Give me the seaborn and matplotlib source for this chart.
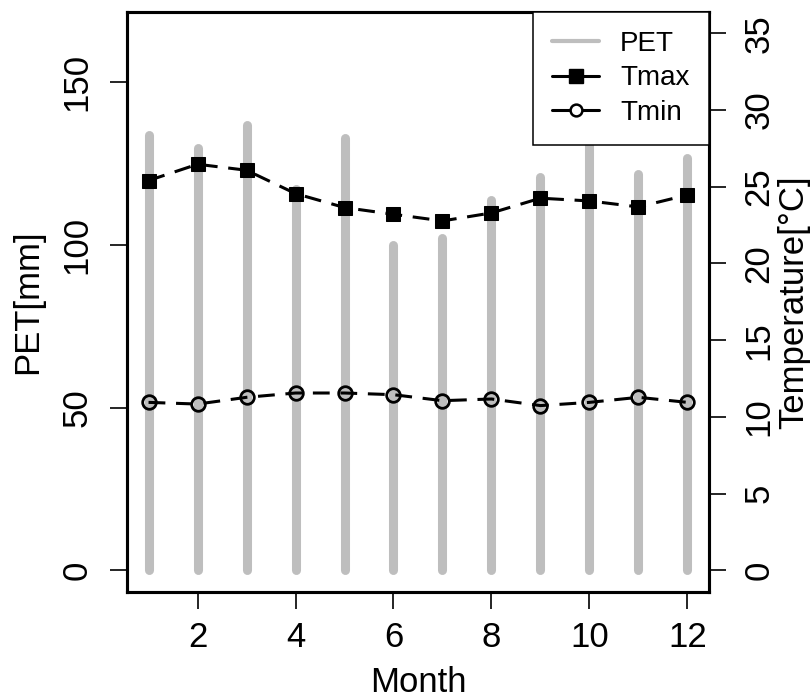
import matplotlib as mpl
mpl.use('Agg')
import matplotlib.pyplot as plt
from matplotlib.lines import Line2D
import seaborn as sns

# monthly climate values
MONTHS = [1, 2, 3, 4, 5, 6, 7, 8, 9, 10, 11, 12]
PET = [133.7, 129.8, 136.8, 117.0, 132.9, 100.0, 102.0, 113.8, 120.8, 132.0, 121.8, 126.8]
TMAX = [25.4, 26.46, 26.07, 24.55, 23.64, 23.2, 22.77, 23.29, 24.25, 24.07, 23.68, 24.46]
TMIN = [10.95, 10.84, 11.28, 11.56, 11.56, 11.45, 11.06, 11.17, 10.74, 10.95, 11.28, 10.95]

X_TICKS = [2, 4, 6, 8, 10, 12]
PET_TICKS = [0, 50, 100, 150]
TEMP_TICKS = [0, 5, 10, 15, 20, 25, 30, 35]

PET_COLOR = '#BEBEBE'
DASH = (0, (5.5, 3.5))


def set_rc_params():
    sns.set_style("ticks")
    mpl.rcParams['font.family'] = ['Liberation Sans', 'DejaVu Sans']
    mpl.rcParams['axes.linewidth'] = 2.2
    mpl.rcParams['xtick.major.width'] = 1.2
    mpl.rcParams['ytick.major.width'] = 1.2
    mpl.rcParams['xtick.major.size'] = 12
    mpl.rcParams['ytick.major.size'] = 12
    mpl.rcParams['xtick.labelsize'] = 25
    mpl.rcParams['ytick.labelsize'] = 25
    mpl.rcParams['axes.labelsize'] = 25
    mpl.rcParams['xtick.color'] = 'black'
    mpl.rcParams['ytick.color'] = 'black'
    mpl.rcParams['axes.edgecolor'] = 'black'
    mpl.rcParams['axes.labelcolor'] = 'black'
    mpl.rcParams['text.color'] = 'black'


set_rc_params()

fig = plt.figure(figsize=(8.11, 6.98), dpi=100)
ax = fig.add_axes([0.1566, 0.1519, 0.7176, 0.8314])
ax2 = ax.twinx()

# PET as thick vertical lines (R type="h")
bars = ax.vlines(MONTHS, 0, PET, colors=PET_COLOR, linewidth=6.5)
bars.set_capstyle('round')

sns.lineplot(x=MONTHS, y=TMAX, ax=ax2, color='black', marker='s',
             markersize=10, markeredgecolor='black', linewidth=2.2,
             linestyle=DASH)
sns.lineplot(x=MONTHS, y=TMIN, ax=ax2, color='black', marker='o',
             markersize=9.8, markerfacecolor='none', markeredgecolor='black',
             markeredgewidth=2.0, linewidth=2.2, linestyle=DASH)

ax.set_xlim(0.56, 12.44)
ax.set_ylim(-6.6, 171.6)
ax2.set_ylim(-6.6 * 35 / 165, 171.6 * 35 / 165)

ax.set_xticks(X_TICKS)
ax.set_yticks(PET_TICKS)
ax2.set_yticks(TEMP_TICKS)

ax.tick_params(axis='x', pad=9)
ax.tick_params(axis='y', labelrotation=90, pad=12)
ax2.tick_params(axis='y', labelrotation=90, pad=12)
for lab in ax.get_yticklabels() + ax2.get_yticklabels():
    lab.set_verticalalignment('center')

ax.set_xlabel("Month")
ax.set_ylabel("PET[mm]")
ax2.set_ylabel("Temperature[°C]")
ax.xaxis.set_label_coords(0.5, -0.127)
ax.yaxis.set_label_coords(-0.142, 0.5)
ax2.yaxis.set_label_coords(1.117, 0.5)

for sp in ax2.spines.values():
    sp.set_linewidth(2.2)

handles = [
    Line2D([], [], color=PET_COLOR, linewidth=3),
    Line2D([], [], color='black', linewidth=2.2, marker='s', markersize=9.5),
    Line2D([], [], color='black', linewidth=2.2, marker='o', markersize=8.5,
           markerfacecolor='white', markeredgewidth=1.8),
]
leg = ax2.legend(handles, ["PET", "Tmax", "Tmin"], loc='upper right',
                 borderaxespad=0, fontsize=20, frameon=True, fancybox=False,
                 handlelength=1.7, handletextpad=0.75, labelspacing=0.3,
                 borderpad=0.7)
leg.get_frame().set_edgecolor('black')
leg.get_frame().set_linewidth(1.1)
leg.get_frame().set_alpha(1)

fig.savefig("out.png", dpi=100)
